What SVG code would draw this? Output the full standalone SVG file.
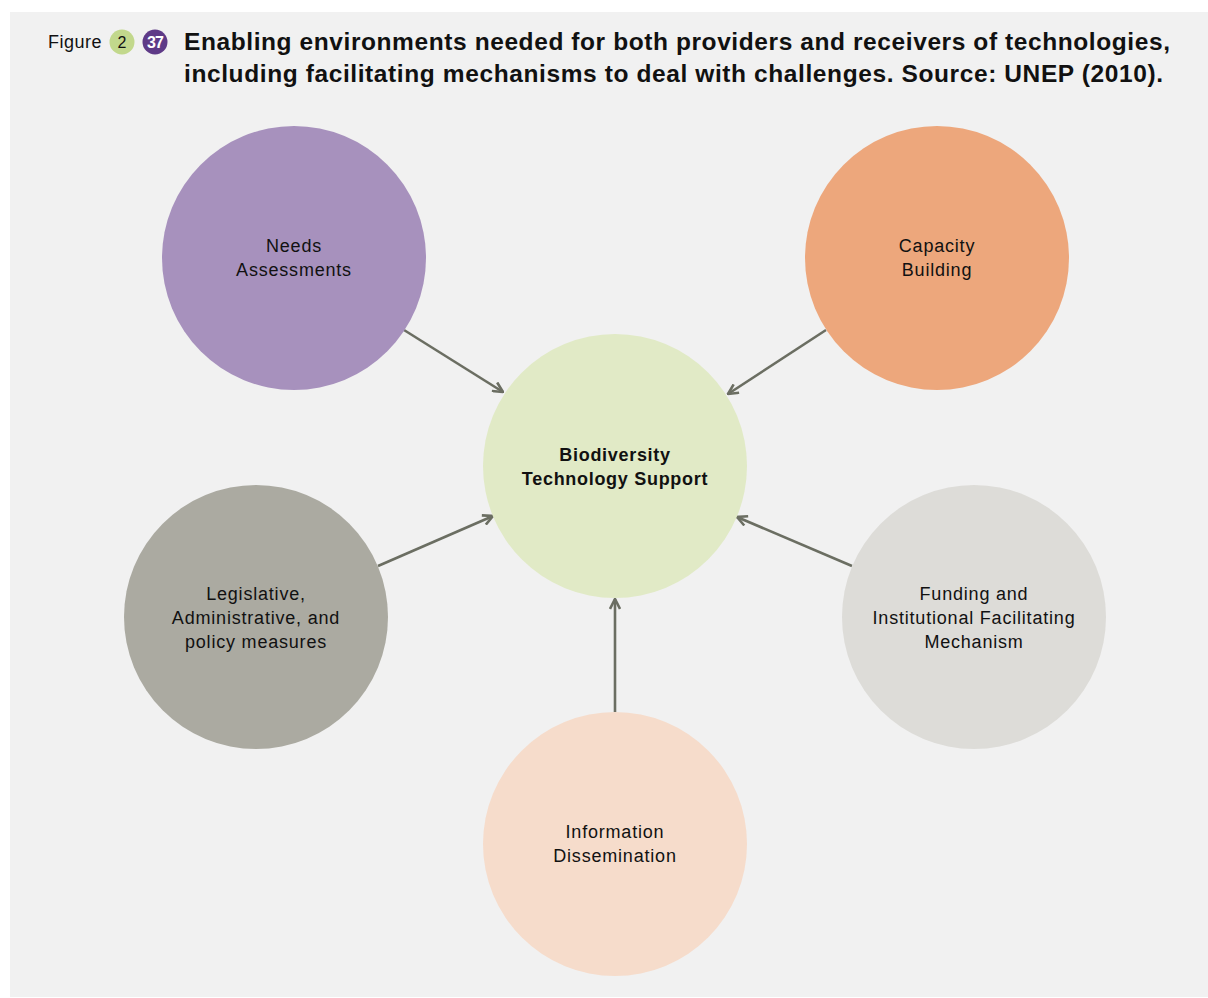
<svg xmlns="http://www.w3.org/2000/svg" width="1208" height="998" viewBox="0 0 1208 998">
<style>
.t{font-family:"Liberation Sans",Arial,sans-serif;font-size:18px;letter-spacing:0.8px;fill:#111;text-anchor:middle}
.b{font-weight:bold;letter-spacing:0.7px}
.title{font-family:"Liberation Sans",Arial,sans-serif;font-size:24.5px;font-weight:bold;fill:#111}
.conn{stroke:#6b6e62;stroke-width:2.6;fill:none}
</style>
<defs>
<marker id="ah" viewBox="0 0 12 12" refX="11" refY="6" markerWidth="12" markerHeight="12" markerUnits="userSpaceOnUse" orient="auto">
<path d="M1,1 L11,6 L1,11" fill="none" stroke="#6b6e62" stroke-width="2.6"/>
</marker>
</defs>
<rect x="0" y="0" width="1208" height="998" fill="#ffffff"/>
<rect x="10" y="12" width="1198" height="985" fill="#f1f1f1"/>
<g id="header">
<text x="48" y="48" style="font-family:'Liberation Sans',Arial,sans-serif;font-size:18px;letter-spacing:0.5px;fill:#111">Figure</text>
<circle cx="122" cy="42" r="12.5" fill="#c2d88c"/>
<text x="122" y="48" style="font-family:'Liberation Sans',Arial,sans-serif;font-size:16px;fill:#111;text-anchor:middle">2</text>
<circle cx="155" cy="42" r="12.5" fill="#5e3a87"/>
<text x="155" y="48" style="font-family:'Liberation Sans',Arial,sans-serif;font-size:16px;font-weight:bold;fill:#fff;text-anchor:middle;letter-spacing:-1px">37</text>
<text class="title" x="184" y="50" textLength="986" lengthAdjust="spacing">Enabling environments needed for both providers and receivers of technologies,</text>
<text class="title" x="184" y="82" textLength="979" lengthAdjust="spacing">including facilitating mechanisms to deal with challenges. Source: UNEP (2010).</text>
</g>
<g id="connectors">
<line class="conn" x1="404" y1="330" x2="503" y2="392" marker-end="url(#ah)"/>
<line class="conn" x1="826" y1="330" x2="728" y2="394" marker-end="url(#ah)"/>
<line class="conn" x1="378" y1="566" x2="493" y2="516" marker-end="url(#ah)"/>
<line class="conn" x1="852" y1="566" x2="737" y2="517" marker-end="url(#ah)"/>
<line class="conn" x1="615" y1="712" x2="615" y2="599" marker-end="url(#ah)"/>
</g>
<g id="node-needs">
<circle cx="294" cy="258" r="132" fill="#a791bd"/>
<text class="t" x="294" y="252">Needs</text>
<text class="t" x="294" y="276">Assessments</text>
</g>
<g id="node-capacity">
<circle cx="937" cy="258" r="132" fill="#eda77c"/>
<text class="t" x="937" y="252">Capacity</text>
<text class="t" x="937" y="276">Building</text>
</g>
<g id="node-center">
<circle cx="615" cy="466" r="132" fill="#e1eac6"/>
<text class="t b" x="615" y="461">Biodiversity</text>
<text class="t b" x="615" y="485">Technology Support</text>
</g>
<g id="node-legislative">
<circle cx="256" cy="617" r="132" fill="#abaaa1"/>
<text class="t" x="256" y="600">Legislative,</text>
<text class="t" x="256" y="624">Administrative, and</text>
<text class="t" x="256" y="648">policy measures</text>
</g>
<g id="node-funding">
<circle cx="974" cy="617" r="132" fill="#dddcd8"/>
<text class="t" x="974" y="600">Funding and</text>
<text class="t" x="974" y="624">Institutional Facilitating</text>
<text class="t" x="974" y="648">Mechanism</text>
</g>
<g id="node-info">
<circle cx="615" cy="844" r="132" fill="#f6dccb"/>
<text class="t" x="615" y="838">Information</text>
<text class="t" x="615" y="862">Dissemination</text>
</g>
</svg>
